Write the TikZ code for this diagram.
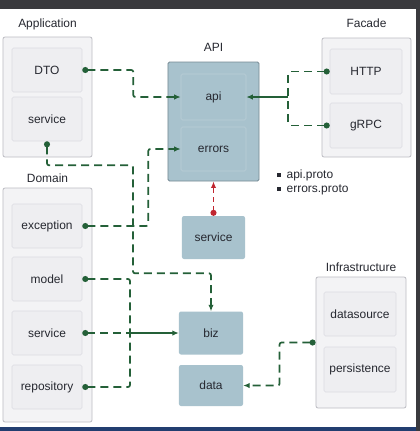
\documentclass[tikz,border=0pt]{standalone}
\usepackage{fontspec}
\setmainfont{Liberation Sans}
\usepackage{tikz}
\usetikzlibrary{arrows.meta,positioning}
\definecolor{textdark}{RGB}{38,40,48}
\definecolor{groupfill}{RGB}{243,243,245}
\definecolor{groupline}{RGB}{188,188,194}
\definecolor{partfill}{RGB}{238,238,241}
\definecolor{partline}{RGB}{220,220,226}
\definecolor{apiblue}{RGB}{168,194,205}
\definecolor{apiline}{RGB}{118,138,148}
\definecolor{apipartline}{RGB}{186,206,215}
\definecolor{linkgreen}{RGB}{36,96,56}
\definecolor{linkred}{RGB}{192,38,48}
\definecolor{topbar}{RGB}{58,58,62}
\definecolor{bottombar}{RGB}{34,62,112}
\newcommand{\sq}{\rule[1.5bp]{3.5bp}{3.5bp}\hspace{6bp}}
\tikzstyle{group} = [draw=groupline, fill=groupfill, rounded corners=2bp, line width=0.8bp, inner sep=0pt]
\tikzstyle{grouptitle} = [text=textdark, inner sep=0pt, text depth=0pt]
\tikzstyle{part} = [draw=partline, fill=partfill, rounded corners=1.5bp, line width=0.6bp, text=textdark, minimum width=70bp, minimum height=44bp, inner sep=0pt]
\tikzstyle{apigroup} = [draw=apiline, fill=apiblue, rounded corners=1.5bp, line width=0.9bp, inner sep=0pt]
\tikzstyle{apipart} = [part, draw=apipartline, fill=apiblue, minimum width=65bp]
\tikzstyle{block} = [fill=apiblue, rounded corners=2bp, text=textdark, minimum width=64bp, minimum height=43bp, inner sep=0pt]
\tikzstyle{protolist} = [text=textdark, align=left, inner sep=0pt, anchor=west]
\tikzstyle{wire} = [draw=linkgreen, line width=1.7bp, dash pattern=on 8bp off 5bp, rounded corners=2bp]
\tikzstyle{link} = [wire, arrows={Circle[length=6bp]-Latex[length=6.5bp,width=5.5bp]}]
\tikzstyle{feed} = [wire, arrows={Circle[length=6bp]-}]
\tikzstyle{merge} = [draw=linkgreen, line width=1.7bp, arrows={-Latex[length=6.5bp,width=5.5bp]}]
\tikzstyle{redlink} = [link, draw=linkred, dash pattern=on 5bp off 4bp]

\begin{document}
\begin{tikzpicture}[x=1bp, y=-1bp, font=\fontsize{12}{14}\selectfont]
	\useasboundingbox (0,0) rectangle (420,431);
	\fill[white] (0,0) rectangle (420,431);
	\fill[topbar] (0,0) rectangle (420,9);
	\fill[topbar] (416,0) rectangle (420,431);
	\fill[bottombar] (0,427) rectangle (416,431);

	\node[group, minimum width=89bp, minimum height=120bp] (application) at (47.5,97) {};
	\node[grouptitle, above=9bp of application] {Application};
	\node[part] (dto) at (47,70) {DTO};
	\node[part] (appsvc) at (47,119) {service};

	\node[group, minimum width=89bp, minimum height=234bp] (domain) at (47.5,305) {};
	\node[grouptitle, above=5bp of domain] {Domain};
	\node[part] (exception) at (47,226) {exception};
	\node[part] (model) at (47,279) {model};
	\node[part] (domsvc) at (47,333) {service};
	\node[part] (repository) at (47,387) {repository};

	\node[apigroup, minimum width=91bp, minimum height=119bp] (apigroup) at (213.5,121.5) {};
	\node[grouptitle, above=10bp of apigroup] {API};
	\node[apipart, minimum height=46bp] (api) at (213.5,97) {api};
	\node[apipart] (errors) at (213.5,149) {errors};
	\node[protolist] (protos) at (277,182) {\sq api.proto\\\sq errors.proto};

	\node[block, minimum width=63bp] (apisvc) at (213.5,237.5) {service};
	\node[block] (biz) at (211,333) {biz};
	\node[block, minimum height=41bp] (data) at (211,385.5) {data};

	\node[group, minimum width=89bp, minimum height=119bp] (facade) at (366.5,97.5) {};
	\node[grouptitle, above=10bp of facade] {Facade};
	\node[part, minimum width=72bp, minimum height=45bp] (http) at (366,71.5) {HTTP};
	\node[part, minimum width=72bp, minimum height=45bp] (grpc) at (366,125.5) {gRPC};

	\node[group, minimum width=90bp, minimum height=131bp] (infra) at (361,342.5) {};
	\node[grouptitle, above=5bp of infra] {Infrastructure};
	\node[part, minimum width=72bp] (datasource) at (360,314) {datasource};
	\node[part, minimum width=72bp, minimum height=45bp] (persistence) at (360,369.5) {persistence};

	\coordinate (apiin) at (288,97);
	\coordinate (bizin) at (130,333);

	\draw[link] (dto.east) -- ++(51,0) |- (api.west);
	\draw[link] (appsvc.south) -- ++(0,24) -| ++(86,108) -| (biz.north);
	\draw[link] (exception.east) -- ++(66,0) |- (errors.west);
	\draw[feed] (model.east) -| (bizin);
	\draw[feed] (repository.east) -| (bizin);
	\draw[feed] (domsvc.east) -- (bizin);
	\draw[merge] (bizin) -- (biz.west);
	\draw[feed] (http.west) -| (apiin);
	\draw[feed] (grpc.west) -| (apiin);
	\draw[merge] (apiin) -- (api.east);
	\draw[redlink] (apisvc.north) -- (apigroup.south);
	\draw[link] (infra.west) -- ++(-36,0) |- (data.east);
\end{tikzpicture}
\end{document}
